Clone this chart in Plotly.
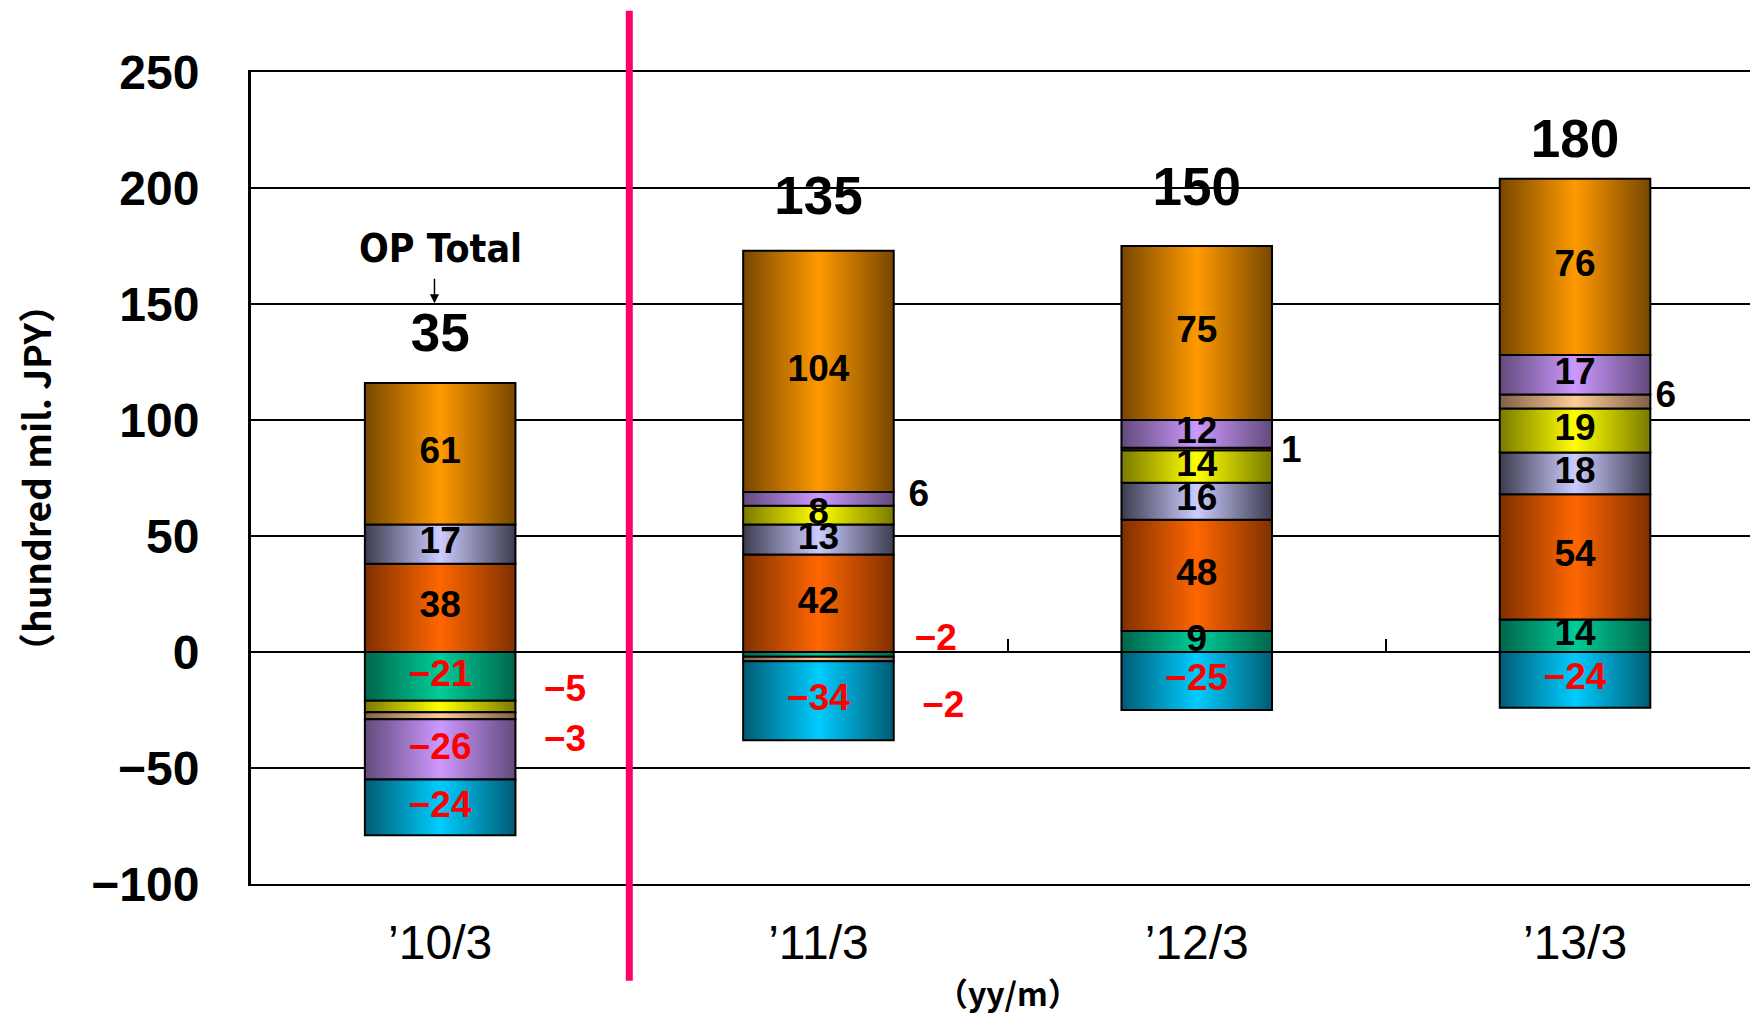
import plotly.graph_objects as go

# ---- data -------------------------------------------------------------
periods = ["’10/3", "’11/3", "’12/3", "’13/3"]
op_total = [35, 135, 150, 180]

# operating profit by segment (hundred mil. JPY), in stacking order
teal_seg = [-21, -2, 9, 14]
orange_red_seg = [38, 42, 48, 54]
lavender_seg = [17, 13, 16, 18]
yellow_seg = [-5, 8, 14, 19]
peach_seg = [-3, -2, 1, 6]
purple_seg = [-26, 6, 12, 17]
orange_seg = [61, 104, 75, 76]
cyan_seg = [-24, -34, -25, -24]

y_ticks = [-100, -50, 0, 50, 100, 150, 200, 250]

# ---- styling ----------------------------------------------------------
series = [
    ("teal", teal_seg, "#00664a", "#00cc99"),
    ("orange_red", orange_red_seg, "#7f3000", "#ff6600"),
    ("lavender", lavender_seg, "#3c3c50", "#ccccff"),
    ("yellow", yellow_seg, "#7a7a00", "#ffff00"),
    ("peach", peach_seg, "#7f6046", "#ffcc99"),
    ("purple", purple_seg, "#634a7c", "#cc99ff"),
    ("orange", orange_seg, "#774700", "#ff9900"),
    ("cyan", cyan_seg, "#005c74", "#00ccff"),
]

HALF_W = 0.199          # half bar width in category units
X_RANGE = [-0.5, 3.4625]
Y_RANGE = [-100, 250]

# small segments labelled beside the bar: (period index, series, x offset, label y)
outside_labels = [
    (0, "yellow", 0.33, -17.1),
    (0, "peach", 0.33, -38.5),
    (1, "teal", 0.31, 4.9),
    (1, "peach", 0.33, -24.0),
    (1, "purple", 0.265, 67.0),
    (2, "peach", 0.25, 86.0),
    (3, "peach", 0.24, 109.6),
]
# vertical placement of the OP total labels
total_label_y = [135.5, 194.6, 198.4, 219.1]

SANS = "Liberation Sans, Arial, Noto Sans CJK JP, sans-serif"
CJK = "Noto Sans CJK JP, Liberation Sans, sans-serif"
NARROW = "Liberation Sans Narrow, Arial Narrow, DejaVu Sans Condensed, Liberation Sans, sans-serif"


def fmt(v):
    return f"−{abs(v)}" if v < 0 else f"{v}"


fig = go.Figure()

# ---- stacked segments with horizontal gradient fill --------------------
pos_base = [0.0] * len(periods)
neg_base = [0.0] * len(periods)
spans = {}
for key, vals, dark, bright in series:
    for i, v in enumerate(vals):
        if v >= 0:
            y0, y1 = pos_base[i], pos_base[i] + v
            pos_base[i] = y1
        else:
            y0, y1 = neg_base[i], neg_base[i] + v
            neg_base[i] = y1
        spans[(i, key)] = (y0, y1, v)
        xl, xr = i - HALF_W, i + HALF_W
        fig.add_trace(go.Scatter(
            x=[xl, xr, xr, xl, xl],
            y=[y0, y0, y1, y1, y0],
            mode="lines",
            fill="toself",
            fillgradient=dict(
                type="horizontal",
                start=xl,
                stop=xr,
                colorscale=[[0, dark], [0.5, bright], [1, dark]],
            ),
            line=dict(color="black", width=2),
            hoverinfo="skip",
            showlegend=False,
        ))

# ---- value labels ------------------------------------------------------
outside_keys = {(i, k) for i, k, _, _ in outside_labels}
in_x, in_y, in_t, in_c = [], [], [], []
for (i, key), (y0, y1, v) in spans.items():
    if (i, key) in outside_keys:
        continue
    in_x.append(i)
    in_y.append((y0 + y1) / 2)
    in_t.append(fmt(v))
    in_c.append("#ff0000" if v < 0 else "black")

fig.add_trace(go.Scatter(
    x=in_x, y=in_y, text=in_t, mode="text",
    textposition="middle center",
    textfont=dict(family=SANS, size=37, color=in_c, weight="bold"),
    hoverinfo="skip", showlegend=False,
))

out_x, out_y, out_t, out_c = [], [], [], []
for i, key, dx, ly in outside_labels:
    v = spans[(i, key)][2]
    out_x.append(i + dx)
    out_y.append(ly)
    out_t.append(fmt(v))
    out_c.append("#ff0000" if v < 0 else "black")

fig.add_trace(go.Scatter(
    x=out_x, y=out_y, text=out_t, mode="text",
    textposition="middle center",
    textfont=dict(family=SANS, size=37, color=out_c, weight="bold"),
    hoverinfo="skip", showlegend=False,
))

# OP totals (drawn on the overlay axis that carries the boundary ticks)
fig.add_trace(go.Scatter(
    x=list(range(len(periods))), y=total_label_y,
    text=[str(t) for t in op_total], mode="text",
    textposition="middle center",
    textfont=dict(family=SANS, size=53, color="black", weight="bold"),
    xaxis="x2", yaxis="y",
    hoverinfo="skip", showlegend=False,
))

# ---- annotations -------------------------------------------------------
fig.add_annotation(
    x=0, y=173.8, xref="x", yref="y", text="OP Total", showarrow=False,
    font=dict(family=NARROW, size=39, color="black", weight="bold"),
)
fig.add_annotation(
    x=-0.015, y=150.3, ax=-0.015, ay=161.5, xref="x", yref="y",
    axref="x", ayref="y", text="", showarrow=True,
    arrowhead=2, arrowsize=1.2, arrowwidth=1.5, arrowcolor="black",
)
fig.add_annotation(
    x=-0.1441, y=0.5, xref="paper", yref="paper",
    text="（hundred mil. JPY）", showarrow=False, textangle=-90,
    xanchor="center", yanchor="middle",
    font=dict(family=CJK, size=37, color="black", weight="bold"),
)
fig.add_annotation(
    x=1.5, y=-0.1335, xref="x", yref="paper",
    text="（yy/m）", showarrow=False,
    xanchor="center", yanchor="middle",
    font=dict(family=CJK, size=32, color="black", weight="bold"),
)

# divider between actual and plan years
fig.add_shape(
    type="line", xref="x", yref="paper",
    x0=0.5, x1=0.5, y0=-0.119, y1=1.0755,
    line=dict(color="#ff0066", width=7), layer="above",
)

zero_pos = (0 - Y_RANGE[0]) / (Y_RANGE[1] - Y_RANGE[0])

fig.update_layout(
    width=1750, height=1016,
    margin=dict(l=251, r=0, t=72, b=132),
    paper_bgcolor="white", plot_bgcolor="white",
    showlegend=False,
    xaxis=dict(
        range=X_RANGE, tickvals=list(range(len(periods))), ticktext=periods,
        showgrid=False, zeroline=False,
        showline=True, mirror=True, linecolor="black", linewidth=2,
        ticks="",
        tickfont=dict(family=SANS, size=48, color="black"),
        ticklabelstandoff=15, fixedrange=True,
    ),
    xaxis2=dict(
        overlaying="x", anchor="free", position=zero_pos, side="top",
        range=X_RANGE, tickvals=[0.5, 1.5, 2.5, 3.5],
        ticks="outside", ticklen=13, tickwidth=2, tickcolor="black",
        showticklabels=False, showgrid=False, zeroline=False, showline=False,
    ),
    yaxis=dict(
        range=Y_RANGE, tickvals=y_ticks,
        showgrid=True, gridcolor="black", gridwidth=2,
        zeroline=True, zerolinecolor="black", zerolinewidth=2,
        showline=True, linecolor="black", linewidth=3, ticks="",
        tickfont=dict(family=SANS, size=48, color="black", weight="bold"),
        ticklabelstandoff=39,
    ),
)

fig.write_html("out.html")
